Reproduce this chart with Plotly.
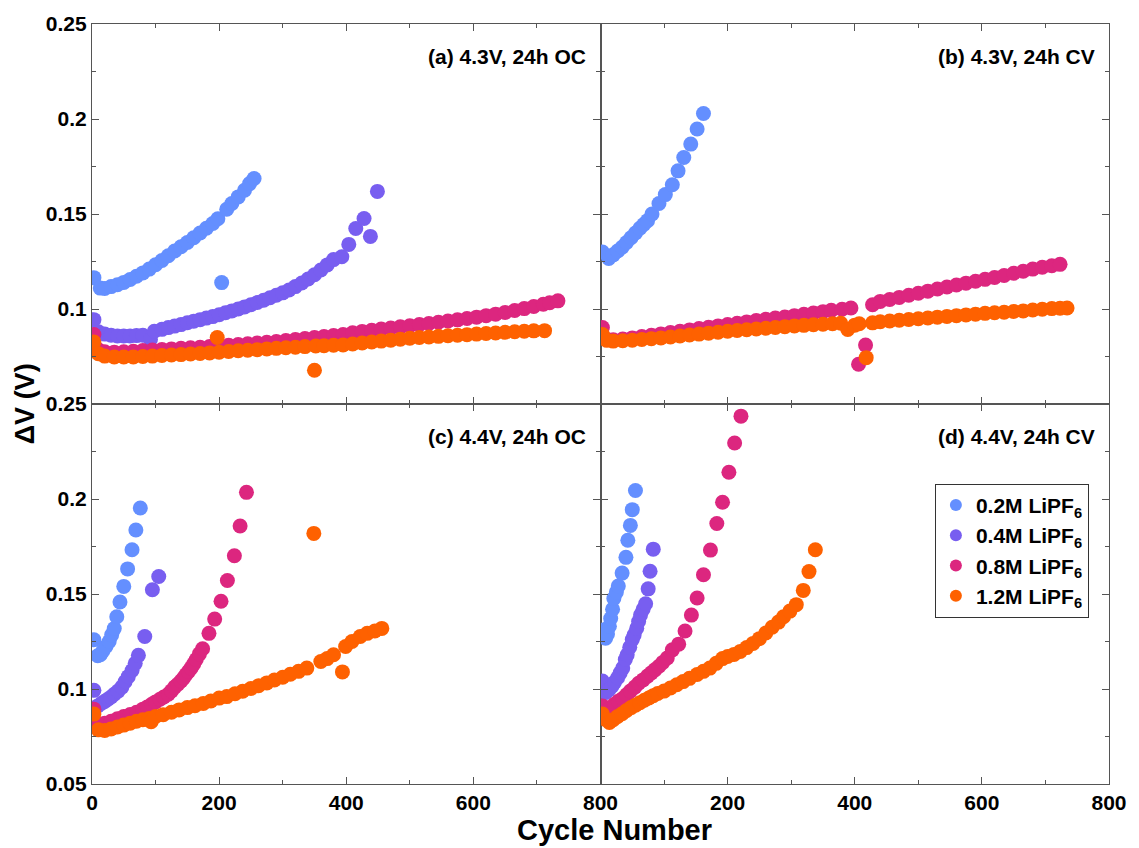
import plotly.graph_objects as go
from plotly.subplots import make_subplots

# ---------------- data (cycle number, delta V in volts) ----------------
series_names = ["0.2M LiPF<sub>6</sub>", "0.4M LiPF<sub>6</sub>",
                "0.8M LiPF<sub>6</sub>", "1.2M LiPF<sub>6</sub>"]
colors = ["#648FFF", "#785EF0", "#DC267F", "#FE6100"]

panel_labels = ["(a) 4.3V, 24h OC", "(b) 4.3V, 24h CV",
                "(c) 4.4V, 24h OC", "(d) 4.4V, 24h CV"]

# (a) 4.3V, 24h OC
a02_x = [3, 13, 20, 30, 40, 50, 60, 70, 80, 90, 100, 110, 120, 130, 140, 150, 160, 170, 180, 190, 198, 204, 212, 220, 230, 240, 248, 255]
a02_y = [0.1165, 0.111, 0.1108, 0.1118, 0.1128, 0.114, 0.1155, 0.1172, 0.119, 0.121, 0.1233, 0.1255, 0.128, 0.1305, 0.1328, 0.135, 0.1375, 0.14, 0.1425, 0.145, 0.1475, 0.1139, 0.1525, 0.1555, 0.159, 0.1625, 0.166, 0.1687]
a04_x = [3, 10, 20, 30, 40, 50, 60, 70, 80, 92, 98, 110, 120, 130, 140, 150, 160, 170, 180, 190, 200, 210, 220, 230, 240, 250, 260, 270, 280, 290, 300, 310, 320, 330, 340, 350, 360, 370, 380, 393, 404, 415, 428, 438, 449]
a04_y = [0.0944, 0.088, 0.0868, 0.0862, 0.0858, 0.0858, 0.0858, 0.086, 0.0862, 0.084, 0.0883, 0.0893, 0.0902, 0.091, 0.0918, 0.0928, 0.0936, 0.0944, 0.0952, 0.096, 0.097, 0.098, 0.099, 0.1, 0.1011, 0.1022, 0.1034, 0.1046, 0.1059, 0.1072, 0.1085, 0.11, 0.1118, 0.1137, 0.1158, 0.118, 0.1205, 0.1232, 0.126, 0.1275, 0.134, 0.1424, 0.1476, 0.1382, 0.1619]
a08_x = [3, 10, 20, 35, 50, 65, 80, 95, 110, 125, 140, 155, 170, 185, 200, 215, 230, 245, 260, 275, 290, 305, 320, 335, 350, 365, 380, 395, 410, 425, 440, 455, 470, 485, 500, 515, 530, 545, 560, 575, 590, 605, 620, 635, 650, 665, 680, 695, 710, 720, 733]
a08_y = [0.0866, 0.0785, 0.0775, 0.0773, 0.0775, 0.0778, 0.0781, 0.0784, 0.0787, 0.079, 0.0793, 0.0796, 0.0799, 0.0802, 0.0805, 0.0809, 0.0813, 0.0817, 0.0821, 0.0825, 0.0829, 0.0834, 0.0839, 0.0845, 0.085, 0.0855, 0.086, 0.0866, 0.0875, 0.0882, 0.0888, 0.0895, 0.09, 0.0906, 0.0912, 0.0918, 0.0924, 0.093, 0.0937, 0.0943, 0.095, 0.0957, 0.0965, 0.0973, 0.0982, 0.0992, 0.1002, 0.1013, 0.1025, 0.1033, 0.1043]
a12_x = [3, 10, 20, 35, 50, 65, 80, 95, 110, 125, 140, 155, 170, 185, 197, 200, 215, 230, 245, 260, 275, 290, 305, 320, 335, 350, 352, 365, 380, 395, 410, 425, 440, 455, 470, 485, 500, 515, 530, 545, 560, 575, 590, 605, 620, 635, 650, 665, 680, 695, 712]
a12_y = [0.0826, 0.0765, 0.0752, 0.0748, 0.0747, 0.0748, 0.075, 0.0752, 0.0755, 0.0758, 0.076, 0.0763, 0.0766, 0.0769, 0.085, 0.0772, 0.0776, 0.078, 0.0783, 0.0786, 0.079, 0.0793, 0.0796, 0.0799, 0.0802, 0.0678, 0.0805, 0.0807, 0.0809, 0.0811, 0.0816, 0.0821, 0.0826, 0.0831, 0.0836, 0.0841, 0.0846, 0.085, 0.0853, 0.0856, 0.0859, 0.0862, 0.0865, 0.0868, 0.0871, 0.0874, 0.0877, 0.088, 0.0883, 0.0885, 0.0886]

# (b) 4.3V, 24h CV
b02_x = [3, 13, 20, 27, 34, 41, 48, 55, 62, 68, 74, 81, 92, 102, 113, 122, 131, 142, 152, 162]
b02_y = [0.130, 0.1266, 0.1285, 0.1305, 0.1325, 0.135, 0.1375, 0.14, 0.1425, 0.1445, 0.1465, 0.150, 0.1555, 0.1602, 0.1654, 0.1727, 0.1797, 0.1868, 0.1947, 0.2029]
b04_x = []
b04_y = []
b08_x = [3, 10, 20, 35, 50, 65, 80, 95, 110, 125, 140, 155, 170, 185, 200, 215, 230, 245, 260, 275, 290, 305, 320, 335, 350, 363, 380, 394, 406, 417, 428, 440, 455, 470, 485, 500, 515, 530, 545, 560, 575, 590, 605, 620, 635, 650, 665, 680, 695, 710, 723]
b08_y = [0.0902, 0.084, 0.0838, 0.0842, 0.0848, 0.0855, 0.0862, 0.0869, 0.0876, 0.0883, 0.089, 0.0897, 0.0904, 0.0911, 0.0918, 0.0925, 0.0932, 0.0939, 0.0946, 0.0952, 0.0958, 0.0965, 0.0972, 0.0979, 0.0986, 0.0993, 0.0999, 0.1005, 0.0709, 0.081, 0.1022, 0.104, 0.105, 0.1061, 0.1072, 0.1083, 0.1094, 0.1105, 0.1116, 0.1126, 0.1136, 0.1146, 0.1156, 0.1166, 0.1176, 0.1188, 0.1199, 0.121, 0.122, 0.1228, 0.1235]
b12_x = [3, 10, 20, 35, 50, 65, 80, 95, 110, 125, 140, 155, 170, 185, 200, 215, 230, 245, 260, 275, 290, 305, 320, 335, 350, 365, 378, 389, 400, 407, 418, 428, 440, 455, 470, 485, 500, 515, 530, 545, 560, 575, 590, 605, 620, 635, 650, 665, 680, 695, 710, 723, 734]
b12_y = [0.0866, 0.0835, 0.0831, 0.0833, 0.0836, 0.084, 0.0844, 0.0848, 0.0853, 0.0858, 0.0863, 0.0868, 0.0873, 0.0878, 0.0883, 0.0887, 0.0891, 0.0895, 0.0899, 0.0903, 0.0907, 0.0911, 0.0914, 0.0917, 0.092, 0.0922, 0.0925, 0.0892, 0.0915, 0.0922, 0.0744, 0.0927, 0.0933, 0.0937, 0.0941, 0.0945, 0.0949, 0.0953, 0.0957, 0.0961, 0.0965, 0.0969, 0.0973, 0.0977, 0.098, 0.0983, 0.0987, 0.099, 0.0995, 0.0999, 0.1002, 0.1004, 0.1005]

# (c) 4.4V, 24h OC
c02_x = [3, 9, 13, 17, 22, 27, 31, 35, 39, 44, 50, 56, 63, 69, 76]
c02_y = [0.1259, 0.1175, 0.118, 0.120, 0.1224, 0.125, 0.1285, 0.1318, 0.138, 0.1458, 0.154, 0.1632, 0.1733, 0.1837, 0.1953]
c04_x = [3, 9, 15, 20, 25, 30, 35, 41, 47, 52, 57, 63, 68, 73, 83, 95, 105]
c04_y = [0.0993, 0.0911, 0.0925, 0.0935, 0.0946, 0.0958, 0.0972, 0.0989, 0.101, 0.1038, 0.1065, 0.1097, 0.1135, 0.1177, 0.1276, 0.1522, 0.1592]
c08_x = [3, 10, 20, 30, 40, 50, 60, 70, 80, 87, 94, 100, 107, 113, 120, 125, 130, 135, 140, 144, 148, 152, 156, 160, 164, 169, 174, 184, 193, 203, 213, 224, 233, 243]
c08_y = [0.0894, 0.0815, 0.082, 0.083, 0.0843, 0.0855, 0.0866, 0.0878, 0.0894, 0.0905, 0.092, 0.0932, 0.0946, 0.0958, 0.0972, 0.099, 0.101, 0.1025, 0.1042, 0.1058, 0.1076, 0.1093, 0.1111, 0.1132, 0.1155, 0.1185, 0.1212, 0.1293, 0.1368, 0.1462, 0.1571, 0.1701, 0.1858, 0.2035]
c12_x = [3, 10, 20, 30, 40, 50, 60, 70, 80, 90, 93, 100, 112, 125, 137, 150, 162, 175, 187, 200, 212, 225, 237, 250, 262, 275, 287, 300, 312, 325, 338, 349, 360, 370, 380, 394, 399, 409, 422, 433, 445, 456]
c12_y = [0.0868, 0.0785, 0.0782, 0.079, 0.08, 0.081, 0.082, 0.083, 0.0838, 0.0845, 0.0828, 0.0855, 0.0865, 0.0878, 0.089, 0.0902, 0.0912, 0.0924, 0.0937, 0.0952, 0.096, 0.0975, 0.0988, 0.1003, 0.1017, 0.1032, 0.1047, 0.1062, 0.1078, 0.1093, 0.111, 0.1819, 0.1145, 0.116, 0.118, 0.109, 0.1224, 0.125, 0.1276, 0.1293, 0.1305, 0.1319]

# (d) 4.4V, 24h CV
d02_x = [3, 8, 11, 14, 16, 19, 21, 25, 28, 34, 40, 43, 47, 50, 55]
d02_y = [0.131, 0.1267, 0.129, 0.133, 0.1371, 0.142, 0.1476, 0.151, 0.1542, 0.161, 0.1693, 0.1783, 0.1861, 0.1944, 0.2045]
d04_x = [3, 8, 13, 18, 22, 27, 31, 35, 39, 42, 46, 50, 53, 57, 60, 63, 67, 71, 75, 78, 83]
d04_y = [0.1042, 0.0981, 0.0995, 0.1015, 0.1035, 0.1059, 0.1085, 0.111, 0.1155, 0.118, 0.122, 0.126, 0.1285, 0.132, 0.1355, 0.1389, 0.142, 0.1449, 0.1527, 0.162, 0.1736]
d08_x = [3, 10, 16, 22, 28, 35, 41, 47, 54, 60, 67, 74, 80, 86, 92, 98, 105, 113, 123, 133, 143, 152, 162, 173, 183, 192, 202, 211, 221]
d08_y = [0.0911, 0.0885, 0.0902, 0.092, 0.0935, 0.095, 0.097, 0.0989, 0.101, 0.103, 0.1048, 0.1068, 0.1085, 0.1102, 0.112, 0.114, 0.1163, 0.1206, 0.1236, 0.1305, 0.1389, 0.1479, 0.1601, 0.1731, 0.1871, 0.1983, 0.2141, 0.2295, 0.2436]
d12_x = [3, 8, 14, 20, 27, 34, 41, 48, 55, 62, 69, 76, 83, 90, 100, 110, 120, 130, 140, 152, 162, 172, 182, 192, 200, 210, 220, 230, 240, 250, 260, 270, 280, 288, 298, 308, 319, 328, 338]
d12_y = [0.0868, 0.084, 0.0824, 0.0838, 0.0855, 0.087, 0.0887, 0.0902, 0.0915, 0.0928, 0.0941, 0.0953, 0.0965, 0.0976, 0.0989, 0.1005, 0.1022, 0.1039, 0.1056, 0.1076, 0.1093, 0.111, 0.1135, 0.116, 0.1171, 0.1182, 0.1198, 0.1218, 0.124, 0.1265, 0.1295, 0.1325, 0.1352, 0.138, 0.141, 0.1444, 0.1519, 0.1618, 0.1733]

x_tick_vals = [0, 200, 400, 600, 800]
y_tick_vals = [0.05, 0.1, 0.15, 0.2, 0.25]
y_tick_text = ["0.05", "0.1", "0.15", "0.2", "0.25"]

panels = [
    (1, 1, [(a02_x, a02_y), (a04_x, a04_y), (a08_x, a08_y), (a12_x, a12_y)]),
    (1, 2, [(b02_x, b02_y), (b04_x, b04_y), (b08_x, b08_y), (b12_x, b12_y)]),
    (2, 1, [(c02_x, c02_y), (c04_x, c04_y), (c08_x, c08_y), (c12_x, c12_y)]),
    (2, 2, [(d02_x, d02_y), (d04_x, d04_y), (d08_x, d08_y), (d12_x, d12_y)]),
]

# ---------------- figure ----------------
FONT = "Liberation Sans"
AX_COLOR = "#555555"

fig = make_subplots(rows=2, cols=2, horizontal_spacing=0, vertical_spacing=0)

for r, c, data in panels:
    for i, (xs, ys) in enumerate(data):
        if not xs:
            continue
        fig.add_trace(go.Scatter(
            x=xs, y=ys, mode="markers",
            marker=dict(size=15, color=colors[i], line=dict(width=0)),
            name=series_names[i], legendgroup=series_names[i],
            showlegend=(r == 2 and c == 2),
        ), row=r, col=c)

tickfont = dict(family=FONT, size=21, color="black", weight="bold")

for r in (1, 2):
    for c in (1, 2):
        xtext = ["0", "200", "400", "600", "800"] if c == 1 else ["", "200", "400", "600", "800"]
        fig.update_xaxes(
            range=[0, 800], tickmode="array", tickvals=x_tick_vals, ticktext=xtext,
            showticklabels=(r == 2),
            ticks="inside", ticklen=7, tickwidth=1.2, tickcolor=AX_COLOR,
            minor=dict(tickmode="linear", tick0=0, dtick=100, ticks="inside", ticklen=4, tickwidth=1.2, tickcolor=AX_COLOR),
            showline=True, linecolor=AX_COLOR, linewidth=1.2, mirror="ticks",
            showgrid=False, zeroline=False, tickfont=tickfont,
            row=r, col=c)
        ytext = list(y_tick_text)
        if r == 1:
            ytext[0] = ""
        fig.update_yaxes(
            range=[0.05, 0.25], tickmode="array", tickvals=y_tick_vals, ticktext=ytext,
            showticklabels=(c == 1),
            ticks="inside", ticklen=7, tickwidth=1.2, tickcolor=AX_COLOR,
            minor=dict(tickmode="linear", tick0=0, dtick=0.025, ticks="inside", ticklen=4, tickwidth=1.2, tickcolor=AX_COLOR),
            showline=True, linecolor=AX_COLOR, linewidth=1.2, mirror="ticks",
            showgrid=False, zeroline=False, tickfont=tickfont,
            row=r, col=c)

ann_font = dict(family=FONT, size=21, color="black", weight="bold")
label_pos = [(0.488, 0.957), (0.988, 0.957), (0.488, 0.4576), (0.988, 0.4576)]
for txt, (ax, ay) in zip(panel_labels, label_pos):
    fig.add_annotation(text=txt, x=ax, y=ay, xref="paper", yref="paper",
                       xanchor="right", yanchor="middle", showarrow=False, font=ann_font)

title_font = dict(family=FONT, size=29, color="black", weight="bold")
fig.add_annotation(text="Cycle Number", x=0.514, y=-0.06, xref="paper", yref="paper",
                   xanchor="center", yanchor="middle", showarrow=False, font=title_font)
fig.add_annotation(text="ΔV (V)", x=-0.0656, y=0.5, xref="paper", yref="paper",
                   xanchor="center", yanchor="middle", showarrow=False, textangle=-90,
                   font=dict(family=FONT, size=27, color="black", weight="bold"))

fig.update_layout(
    width=1139, height=848,
    margin=dict(l=92, r=25, t=17, b=64),
    paper_bgcolor="white", plot_bgcolor="white",
    font=dict(family=FONT, color="black"),
    showlegend=True,
    legend=dict(
        x=0.8288, y=0.395, xanchor="left", yanchor="top",
        bgcolor="white", bordercolor="#333333", borderwidth=1,
        font=dict(family=FONT, size=21, color="black", weight="bold"),
        itemsizing="constant", traceorder="normal",
    ),
)

fig.write_html("out.html")
